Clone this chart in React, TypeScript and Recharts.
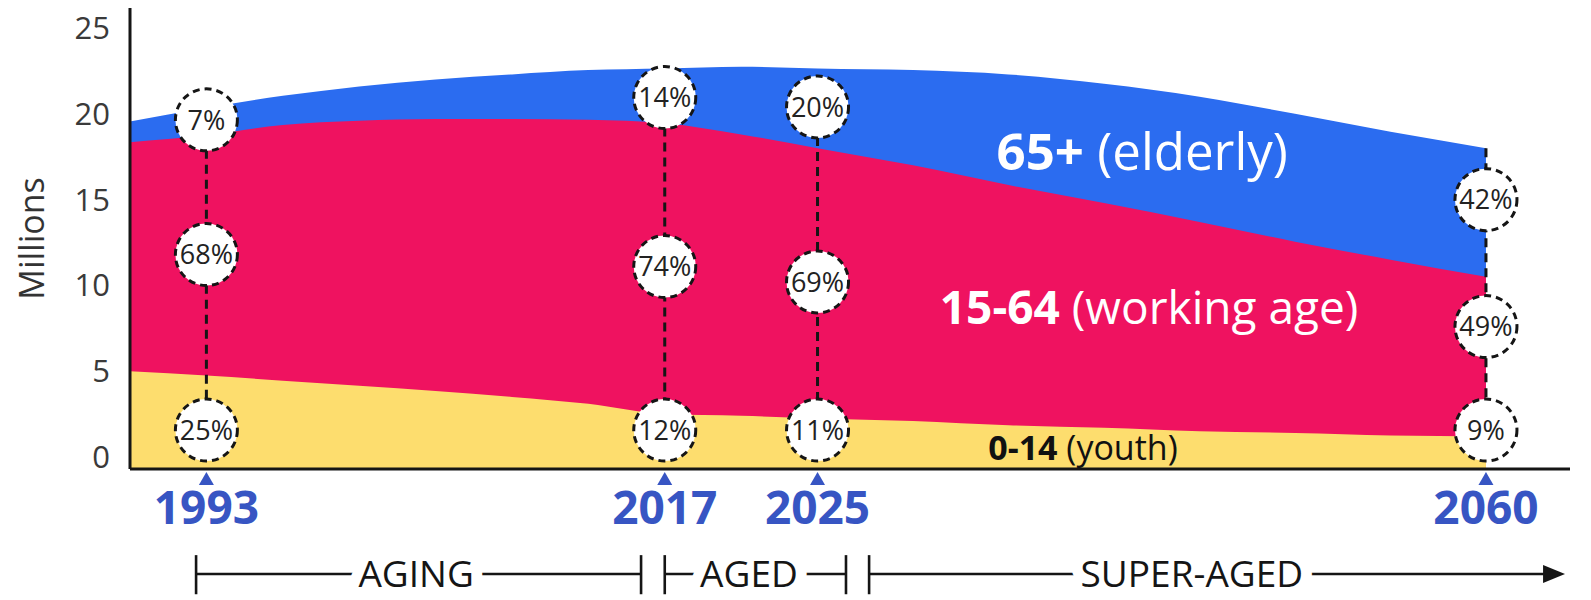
import React from 'react';
import { AreaChart, Area, XAxis, YAxis, ReferenceLine, ReferenceDot } from 'recharts';

// ---------- data (millions) ----------
const years = [1989, 1993, 1997, 2001, 2005, 2009, 2013, 2017, 2021, 2025, 2030, 2035, 2040, 2045, 2050, 2055, 2060];
const youth = [5.0, 4.75, 4.45, 4.15, 3.85, 3.5, 3.1, 2.5, 2.4, 2.25, 2.1, 1.85, 1.7, 1.5, 1.4, 1.25, 1.2];
const working = [13.35, 14.0, 14.9, 15.45, 15.85, 16.2, 16.55, 16.95, 16.4, 15.75, 14.9, 14.0, 13.1, 12.2, 11.15, 10.25, 9.3];
const elderly = [1.2, 1.6, 1.7, 2.0, 2.3, 2.6, 2.9, 3.2, 3.95, 4.65, 5.55, 6.45, 6.95, 7.3, 7.45, 7.45, 7.5];

const yTicks = [0, 5, 10, 15, 20, 25];
const milestoneYears = [1993, 2017, 2025, 2060];

// share bubbles at the milestone years
const elderlyShare = ['7%', '14%', '20%', '42%'];
const workingShare = ['68%', '74%', '69%', '49%'];
const youthShare = ['25%', '12%', '11%', '9%'];
const elderlyAt = [19.65, 20.95, 20.4, 15.0];
const workingAt = [11.8, 11.1, 10.2, 7.6];
const youthAt = [1.57, 1.57, 1.57, 1.57];
const lineTop = [19.65, 20.95, 20.4, 18.0];

// timeline stages
const stageLabels = ['AGING', 'AGED', 'SUPER-AGED'];
const stageFrom = [1992.46, 2017.0, 2027.7];
const stageTo = [2015.76, 2026.49, 2064.14];
const stageLabelAt = [2003.98, 2021.41, 2044.6];

const data = years.map((year, i) => ({
  year,
  youth: youth[i],
  youthWorking: +(youth[i] + working[i]).toFixed(2),
  total: +(youth[i] + working[i] + elderly[i]).toFixed(2),
}));

const FONT = '"Open Sans", "DejaVu Sans", sans-serif';
const BLUE_AREA = '#2b6cf0';
const RED_AREA = '#ef1260';
const YELLOW_AREA = '#fddd6e';
const YEAR_BLUE = '#3755c3';
const INK = '#151515';

const TL_Y = -6.82;
const TL_TOP = -5.72;
const TL_BOT = -8.0;

const YearTick = (props: any) => {
  const { x, y, payload } = props;
  return (
    <g>
      <polygon points={`${x},${y + 3} ${x - 7.5},${y + 16} ${x + 7.5},${y + 16}`} fill={YEAR_BLUE} />
      <text x={x} y={y + 55} textAnchor="middle" fontFamily={FONT} fontWeight={700} fontSize={46} fill={YEAR_BLUE}>
        {payload.value}
      </text>
    </g>
  );
};

const bubble = (text: string) => (props: any) => {
  const { cx, cy } = props;
  return (
    <g>
      <circle cx={cx} cy={cy} r={31} fill="#ffffff" stroke={INK} strokeWidth={3} strokeDasharray="7 5" />
      <text x={cx} y={cy} dy="0.36em" textAnchor="middle" fontFamily={FONT} fontSize={27} fill="#222">
        {text}
      </text>
    </g>
  );
};

const seriesLabel = (bold: string, rest: string, size: number, color: string) => (props: any) => {
  const { cx, cy } = props;
  return (
    <text x={cx} y={cy} dy="0.36em" textAnchor="middle" fontFamily={FONT} fontSize={size} fill={color}>
      <tspan fontWeight={700}>{bold}</tspan>
      <tspan>{rest}</tspan>
    </text>
  );
};

const stageText = (text: string) => (props: any) => {
  const { cx, cy } = props;
  return (
    <text
      x={cx}
      y={cy}
      dy="0.36em"
      textAnchor="middle"
      fontFamily={FONT}
      fontSize={37}
      fill={INK}
      stroke="#ffffff"
      strokeWidth={22}
      strokeLinejoin="round"
      paintOrder="stroke"
    >
      {text}
    </text>
  );
};

const arrowHead = (props: any) => {
  const { cx, cy } = props;
  return <polygon points={`${cx},${cy} ${cx - 22},${cy - 9} ${cx - 22},${cy + 9}`} fill={INK} />;
};

const MillionsLabel = (props: any) => {
  const vb = props.viewBox || { x: 0, y: 8, width: 130, height: 461 };
  const x = vb.x + 31;
  const y = vb.y + vb.height / 2;
  return (
    <text x={x} y={y} transform={`rotate(-90, ${x}, ${y})`} textAnchor="middle" dominantBaseline="central" fontFamily={FONT} fontSize={34} fill="#333">
      Millions
    </text>
  );
};

export default function App() {
  return (
    <div style={{ position: 'absolute', left: 0, top: 0, width: 1591, height: 600, background: '#ffffff' }}>
      <AreaChart width={1591} height={600} data={data} margin={{ top: 8, right: 21, left: 0, bottom: 0 }}>
        <XAxis
          dataKey="year"
          type="number"
          domain={[1989, 2064.4]}
          allowDataOverflow
          ticks={milestoneYears}
          interval={0}
          tick={(p: any) => <YearTick {...p} />}
          tickLine={false}
          tickSize={0}
          tickMargin={0}
          height={131}
          axisLine={{ stroke: INK, strokeWidth: 3 }}
        />
        <YAxis
          type="number"
          domain={[-0.7, 26.17]}
          allowDataOverflow
          ticks={yTicks}
          interval={0}
          width={130}
          tickLine={false}
          tickSize={0}
          tickMargin={20}
          tick={{ fontFamily: FONT, fontSize: 31, fill: '#3a3a3a' }}
          axisLine={{ stroke: INK, strokeWidth: 3 }}
          label={{ content: (p: any) => <MillionsLabel {...p} /> }}
        />
        <Area dataKey="total" type="monotone" baseValue="dataMin" fill={BLUE_AREA} fillOpacity={1} stroke="none" dot={false} activeDot={false} isAnimationActive={false} />
        <Area dataKey="youthWorking" type="monotone" baseValue="dataMin" fill={RED_AREA} fillOpacity={1} stroke="none" dot={false} activeDot={false} isAnimationActive={false} />
        <Area dataKey="youth" type="monotone" baseValue="dataMin" fill={YELLOW_AREA} fillOpacity={1} stroke="none" dot={false} activeDot={false} isAnimationActive={false} />

        {milestoneYears.map((yr, i) => (
          <ReferenceLine
            key={`dl${yr}`}
            segment={[{ x: yr, y: lineTop[i] }, { x: yr, y: youthAt[i] }]}
            stroke={INK}
            strokeWidth={3}
            strokeDasharray="9 6"
            ifOverflow="visible"
          />
        ))}
        {milestoneYears.map((yr, i) => (
          <ReferenceDot key={`e${yr}`} x={yr} y={elderlyAt[i]} r={31} ifOverflow="visible" shape={bubble(elderlyShare[i])} />
        ))}
        {milestoneYears.map((yr, i) => (
          <ReferenceDot key={`w${yr}`} x={yr} y={workingAt[i]} r={31} ifOverflow="visible" shape={bubble(workingShare[i])} />
        ))}
        {milestoneYears.map((yr, i) => (
          <ReferenceDot key={`y${yr}`} x={yr} y={youthAt[i]} r={31} ifOverflow="visible" shape={bubble(youthShare[i])} />
        ))}

        <ReferenceDot x={2042.0} y={17.77} r={1} ifOverflow="visible" shape={seriesLabel('65+', ' (elderly)', 51, '#ffffff')} />
        <ReferenceDot x={2042.36} y={8.71} r={1} ifOverflow="visible" shape={seriesLabel('15-64', ' (working age)', 46, '#ffffff')} />
        <ReferenceDot x={2038.9} y={0.55} r={1} ifOverflow="visible" shape={seriesLabel('0-14', ' (youth)', 34, '#111111')} />

        {stageLabels.map((lab, i) => (
          <ReferenceLine
            key={`sl${lab}`}
            segment={[{ x: stageFrom[i], y: TL_Y }, { x: i === 2 ? stageTo[i] - 0.6 : stageTo[i], y: TL_Y }]}
            stroke={INK}
            strokeWidth={2.6}
            ifOverflow="visible"
          />
        ))}
        {stageLabels.map((lab, i) => (
          <ReferenceLine
            key={`st${lab}`}
            segment={[{ x: stageFrom[i], y: TL_TOP }, { x: stageFrom[i], y: TL_BOT }]}
            stroke={INK}
            strokeWidth={2.6}
            ifOverflow="visible"
          />
        ))}
        {stageLabels.slice(0, 2).map((lab, i) => (
          <ReferenceLine
            key={`se${lab}`}
            segment={[{ x: stageTo[i], y: TL_TOP }, { x: stageTo[i], y: TL_BOT }]}
            stroke={INK}
            strokeWidth={2.6}
            ifOverflow="visible"
          />
        ))}
        <ReferenceDot x={stageTo[2]} y={TL_Y} r={1} ifOverflow="visible" shape={arrowHead} />
        {stageLabels.map((lab, i) => (
          <ReferenceDot key={`sx${lab}`} x={stageLabelAt[i]} y={TL_Y} r={1} ifOverflow="visible" shape={stageText(lab)} />
        ))}
      </AreaChart>
    </div>
  );
}
